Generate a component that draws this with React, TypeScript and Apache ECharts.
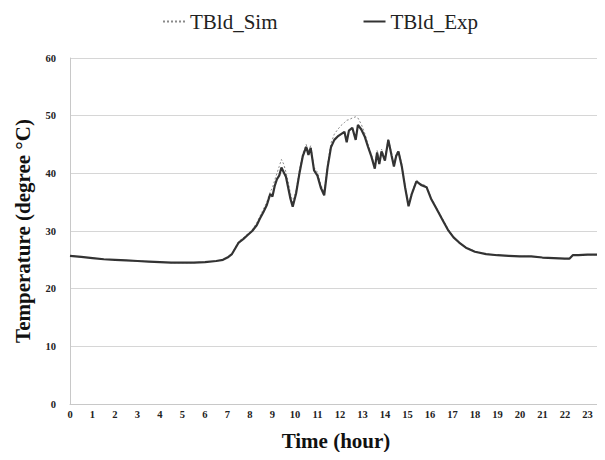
import React, { useEffect, useRef } from "react";
import * as echarts from "echarts";

// Hour of day for each sample
const hours = [
  0.0, 0.5, 1.0, 1.5, 2.0, 2.5, 3.0, 3.5, 4.0, 4.5, 5.0, 5.5, 6.0, 6.5, 6.8, 7.0,
  7.2, 7.35, 7.5, 7.7, 7.9, 8.1, 8.3, 8.45, 8.6, 8.75, 8.9, 9.0, 9.1, 9.2, 9.3, 9.4,
  9.5, 9.6, 9.7, 9.8, 9.9, 10.05, 10.2, 10.35, 10.5, 10.6, 10.7, 10.85, 11.0, 11.15, 11.3, 11.45,
  11.6, 11.75, 11.9, 12.05, 12.2, 12.3, 12.4, 12.55, 12.7, 12.8, 12.95, 13.1, 13.25, 13.4,
  13.55, 13.65, 13.75, 13.85, 14.0, 14.15, 14.3, 14.4, 14.5, 14.6, 14.75, 14.9, 15.05, 15.2,
  15.4, 15.6, 15.85, 16.05, 16.3, 16.55, 16.8, 17.05, 17.3, 17.6, 18.0, 18.5, 19.0, 19.5,
  20.0, 20.5, 21.0, 21.5, 22.0, 22.2, 22.35, 22.6, 23.0, 23.4, 23.7,
];

// Measured building temperature (°C)
const tbldExp = [
  25.7, 25.5, 25.3, 25.1, 25.0, 24.9, 24.8, 24.7, 24.6, 24.5, 24.5, 24.5, 24.6, 24.8, 25.0, 25.4,
  26.0, 27.0, 28.0, 28.6, 29.3, 30.0, 31.0, 32.2, 33.3, 34.5, 36.4, 36.0, 37.8, 39.0, 39.6, 41.0,
  40.2, 39.4, 37.5, 35.6, 34.2, 36.5, 40.0, 43.0, 44.6, 43.2, 44.4, 40.5, 39.6, 37.5, 36.2, 41.0,
  44.5, 45.8, 46.4, 46.8, 47.2, 45.4, 47.4, 47.9, 45.8, 48.4, 47.6, 46.4, 44.6, 42.9,
  40.8, 43.6, 41.6, 43.8, 42.2, 45.8, 43.0, 41.2, 43.0, 43.8, 41.2, 37.5, 34.3, 36.5,
  38.6, 38.0, 37.6, 35.6, 33.8, 32.0, 30.2, 28.9, 28.0, 27.1, 26.4, 26.0, 25.8, 25.7,
  25.6, 25.6, 25.4, 25.3, 25.2, 25.2, 25.8, 25.8, 25.9, 25.9, 26.0,
];

// Simulated building temperature (°C)
const tbldSim = [
  25.7, 25.5, 25.3, 25.1, 25.0, 24.9, 24.8, 24.7, 24.6, 24.5, 24.5, 24.5, 24.6, 24.8, 25.0, 25.4,
  26.0, 27.2, 28.2, 28.8, 29.5, 30.2, 31.4, 32.6, 33.8, 35.0, 36.8, 37.5, 38.8, 40.0, 41.2, 42.4,
  41.6, 40.2, 38.5, 36.5, 35.0, 37.0, 40.5, 43.5, 45.0, 43.8, 44.8, 41.0, 40.2, 38.0, 36.8, 41.5,
  45.2, 46.8, 47.6, 48.3, 48.8, 49.2, 49.3, 49.6, 49.8, 49.6, 48.5, 47.0, 45.0, 43.2,
  41.2, 44.0, 42.0, 44.2, 42.6, 46.0, 43.4, 41.6, 43.4, 44.0, 41.6, 37.8, 34.6, 36.8,
  38.8, 38.2, 37.8, 35.8, 34.0, 32.2, 30.4, 29.0, 28.1, 27.2, 26.5, 26.0, 25.8, 25.7,
  25.6, 25.6, 25.4, 25.3, 25.2, 25.2, 25.8, 25.8, 25.9, 25.9, 26.0,
];

const seriesNames = ["TBld_Sim", "TBld_Exp"];

const FONT = "Liberation Serif";

export default function App() {
  const ref = useRef<HTMLDivElement>(null);

  useEffect(() => {
    if (!ref.current) return;
    const chart = echarts.init(ref.current, undefined, { renderer: "svg" });
    const simData = hours.map((h, i) => [h, tbldSim[i]]);
    const expData = hours.map((h, i) => [h, tbldExp[i]]);

    chart.setOption({
      animation: false,
      backgroundColor: "#ffffff",
      textStyle: { fontFamily: FONT },
      legend: {
        data: seriesNames,
        top: 6,
        left: 157,
        itemWidth: 22,
        itemHeight: 14,
        itemGap: 85,
        itemStyle: { opacity: 0 },
        textStyle: { fontFamily: FONT, fontSize: 21, color: "#222" },
      },
      grid: { left: 70, right: 0, top: 58, bottom: 56 },
      xAxis: {
        type: "value",
        min: 0,
        max: 23.65,
        interval: 1,
        name: "Time (hour)",
        nameLocation: "middle",
        nameGap: 26,
        nameTextStyle: { fontFamily: FONT, fontSize: 21, fontWeight: "bold", color: "#111" },
        axisLine: { show: true, lineStyle: { color: "#c8c8c8", width: 1 } },
        axisTick: { show: false },
        splitLine: { show: false },
        axisLabel: {
          margin: 5,
          fontFamily: FONT,
          fontSize: 10.5,
          fontWeight: "bold",
          color: "#222",
          formatter: (v: number) => (Number.isInteger(v) ? String(v) : ""),
        },
      },
      yAxis: {
        type: "value",
        min: 0,
        max: 60,
        interval: 10,
        name: "Temperature (degree °C)",
        nameLocation: "middle",
        nameGap: 37,
        nameTextStyle: { fontFamily: FONT, fontSize: 21, fontWeight: "bold", color: "#111" },
        axisLine: { show: true, lineStyle: { color: "#c8c8c8", width: 1 } },
        axisTick: { show: false },
        splitLine: { show: true, lineStyle: { color: "#d6d6d6", width: 1 } },
        axisLabel: {
          margin: 14,
          fontFamily: FONT,
          fontSize: 10.5,
          fontWeight: "bold",
          color: "#222",
        },
      },
      series: [
        {
          name: seriesNames[0],
          type: "line",
          data: simData,
          symbol: "none",
          z: 2,
          lineStyle: { color: "#8a8a8a", width: 1, type: [2, 2] },
          itemStyle: { color: "#8a8a8a" },
        },
        {
          name: seriesNames[1],
          type: "line",
          data: expData,
          symbol: "none",
          z: 3,
          lineStyle: { color: "#333333", width: 2.2 },
          itemStyle: { color: "#333333" },
        },
      ],
    });

    return () => chart.dispose();
  }, []);

  return <div ref={ref} style={{ width: 605, height: 460, margin: -8 }} />;
}
